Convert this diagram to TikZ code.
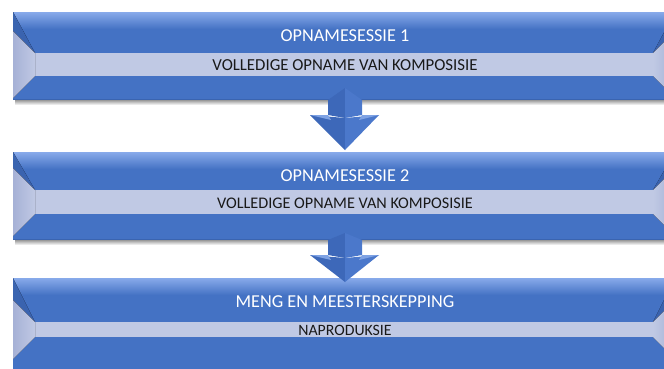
\documentclass[tikz,border=0pt]{standalone}
\usepackage{fontspec}
\setmainfont{Carlito}
\definecolor{boxblue}{HTML}{4472C4}
\definecolor{boxlight}{HTML}{88AAEA}
\definecolor{boxedge}{HTML}{3A64B0}
\definecolor{bandfill}{HTML}{C0C9E4}
\definecolor{bevellight}{HTML}{A6B1D6}
\definecolor{beveldark}{HTML}{3A62AE}
\definecolor{shaftdark}{HTML}{3D68B9}
\definecolor{shaftlight}{HTML}{4B78CB}
\definecolor{headlight}{HTML}{7EA2E4}
\tikzset{
  titletext/.style={text=white, font=\fontsize{18.2}{21}\selectfont, inner sep=0pt},
  subtext/.style={text=black!90, font=\fontsize{16.2}{19}\selectfont, inner sep=0pt},
}
% #1 top, #2 bottom, #3 band centre, #4 band half height
\newcommand\stagebox[4]{%
  \pgfmathsetmacro\bt{#3-#4}%
  \pgfmathsetmacro\bb{#3+#4}%
  % soft shadow under the box
  \fill[top color=black!40, bottom color=white] (15,#2) rectangle (675,#2+5);
  % body with a lighter top edge
  \fill[boxblue] (13,#1) rectangle (675,#2);
  \fill[top color=boxlight, bottom color=boxblue] (13,#1) rectangle (675,#1+17);
  \draw[boxedge, line width=0.8pt] (13,#2-0.4) -- (675,#2-0.4);
  % light band
  \fill[bandfill] (35,\bt) rectangle (653,\bb);
  % left bevel
  \fill[left color=boxedge, right color=beveldark] (13,#1) -- (35,\bt) -- (13,\bt-22) -- cycle;
  \fill[left color=bevellight, right color=bandfill] (13,\bt-22) -- (35,\bt) -- (35,\bb) -- (13,\bb+22) -- cycle;
  % right bevel
  \fill[right color=boxedge, left color=beveldark] (675,#1) -- (653,\bt) -- (675,\bt-22) -- cycle;
  \fill[right color=bevellight, left color=bandfill] (675,\bt-22) -- (653,\bt) -- (653,\bb) -- (675,\bb+22) -- cycle;
}
% #1 box bottom, #2 shaft peak, #3 wing line, #4 tip
\newcommand\downarrowshape[4]{%
  \fill[shaftdark] (328,#1) -- (345,#2) -- (345,#3+3) -- (328,#3) -- cycle;
  \fill[shaftlight] (362,#1) -- (345,#2) -- (345,#3+3) -- (362,#3) -- cycle;
  \fill[shaftdark] (310,#3) -- (345,#3+3) -- (345,#4) -- cycle;
  \fill[shaftlight] (379,#3) -- (345,#3+3) -- (345,#4) -- cycle;
  \fill[headlight] (310,#3) -- (328,#3) -- (331,#3+5) -- cycle;
  \fill[headlight] (379,#3) -- (362,#3) -- (359,#3+5) -- cycle;
}
\begin{document}
\begin{tikzpicture}[x=1pt,y=-1pt]
  \useasboundingbox (0,0) rectangle (664,368);
  \clip (0,0) rectangle (664,368);
  \fill[white] (0,0) rectangle (664,368);

  \stagebox{12}{100}{64.5}{11.5}
  \stagebox{152}{240}{202}{12}
  \stagebox{278}{385}{329.5}{7.5}

  \downarrowshape{100}{88}{115}{150}
  \downarrowshape{240}{233}{255}{282}

  \node[titletext] (t1) at (345,36) {OPNAMESESSIE 1};
  \node[subtext, font=\fontsize{16.8}{19}\selectfont] (s1) at (345,65) {VOLLEDIGE OPNAME VAN KOMPOSISIE};
  \node[titletext] (t2) at (345,176) {OPNAMESESSIE 2};
  \node[subtext] (s2) at (345,203) {VOLLEDIGE OPNAME VAN KOMPOSISIE};
  \node[titletext] (t3) at (345,302) {MENG EN MEESTERSKEPPING};
  \node[subtext, font=\fontsize{15.8}{19}\selectfont] (s3) at (345,330) {NAPRODUKSIE};
\end{tikzpicture}
\end{document}
